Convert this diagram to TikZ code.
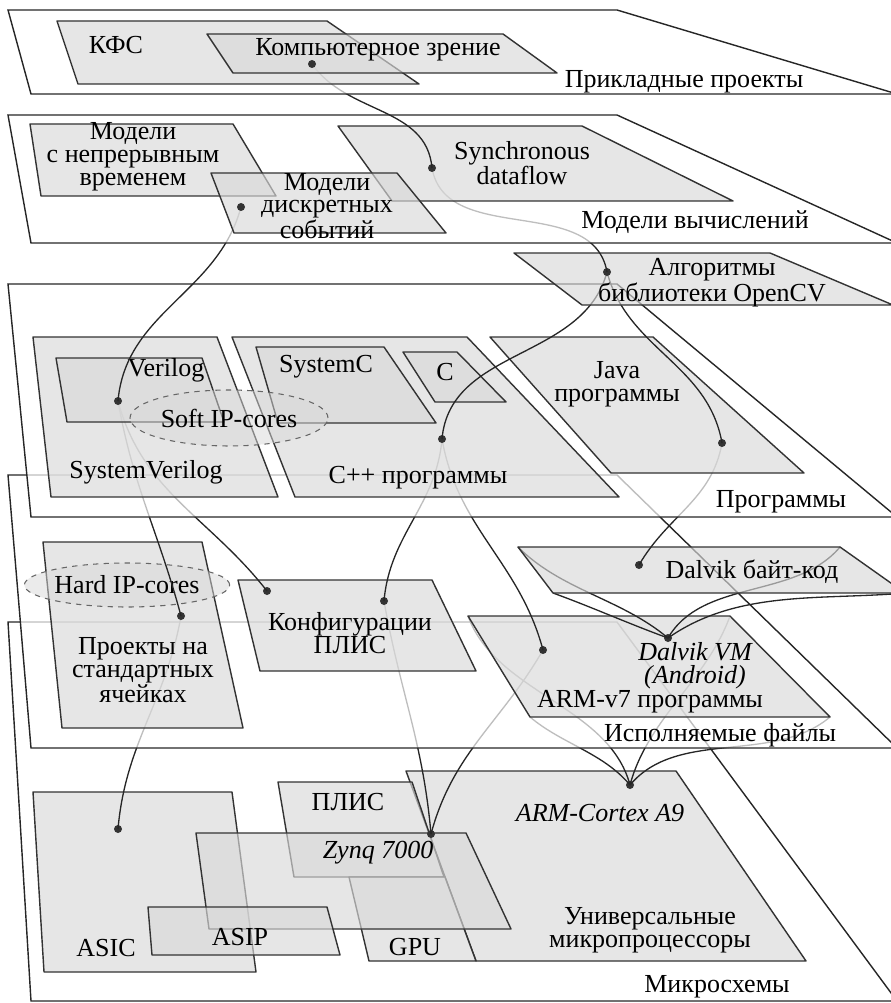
\documentclass[tikz,border=0pt]{standalone}
\usepackage{fontspec}
\setmainfont{Liberation Serif}
\usetikzlibrary{shapes.geometric}

\newcommand{\txtsize}{\fontsize{14.8}{13}\selectfont}
% one layer of the stack, given by its upper and its lower edge
\newcommand{\sheet}[2]{\draw[plane] (8,#1) -- (617,#1) -- (897,#2) -- (31,#2) -- cycle;}

\begin{document}
\begin{tikzpicture}[x=0.02cm, y=-0.02cm,
    every node/.style={font=\txtsize, align=center, inner sep=0pt},
    plane/.style={draw=black!85, line width=0.8pt, fill=white, fill opacity=0.7},
    block/.style={draw=black!80, line width=0.8pt, fill=black!15, fill opacity=0.65, line join=round},
    core/.style={ellipse, draw=black!60, dashed, line width=0.6pt, fill=black!15, fill opacity=0.5, text opacity=1},
    spot/.style={circle, fill=black!80, minimum size=1.6mm},
    link/.style={draw=black!85, line width=0.75pt},
    fan/.style={link, looseness=0.9},
    slanted/.style={font=\txtsize\itshape},
  ]
  \useasboundingbox (0,0) rectangle (891,1003);
  \clip (0,0) rectangle (891,1003);

  % points where the links meet
  \coordinate (kz) at (312,64);
  \coordinate (sdf) at (432,168);
  \coordinate (mde) at (241,207);
  \coordinate (ocv) at (607,272);
  \coordinate (vlg) at (118,401);
  \coordinate (cpp) at (442,439);
  \coordinate (jav) at (722,443);
  \coordinate (psc) at (181,616);
  \coordinate (cfa) at (267,591);
  \coordinate (cfb) at (384,601);
  \coordinate (dbc) at (639,565);
  \coordinate (dvm) at (668,638);
  \coordinate (arm) at (543,650);
  \coordinate (asc) at (118,829);
  \coordinate (znq) at (431,834);
  \coordinate (a9) at (630,785);
  % corners reached by the fans
  \coordinate (bc1) at (518,547); \coordinate (bc2) at (840,547);
  \coordinate (bc3) at (905,593); \coordinate (bc4) at (553,593);
  \coordinate (av1) at (468,616); \coordinate (av2) at (730,616);
  \coordinate (av3) at (830,717); \coordinate (av4) at (530,717);

  % Микросхемы
  \sheet{622}{1001}
  \draw[block] (33,792) -- (232,792) -- (256,972) -- (44,972) -- cycle;
  \draw[block] (406,771) -- (676,771) -- (806,961) -- (476,961) -- cycle;
  \draw[block] (278,782) -- (412,782) -- (444,877) -- (294,877) -- cycle;
  \draw[block] (349,877) -- (445,877) -- (476,961) -- (369,961) -- cycle;
  \draw[block] (196,833) -- (466,833) -- (511,929) -- (209,929) -- cycle;
  \draw[block] (148,907) -- (327,907) -- (340,955) -- (152,955) -- cycle;
  \node (chips) at (717,987) {Микросхемы};
  \node (asic) at (106,948) {ASIC};
  \node (asip) at (240,937) {ASIP};
  \node (fpga) at (348,802) {ПЛИС};
  \node (gpu) at (415,947) {GPU};
  \node (zynq) [slanted] at (378,853) {Zynq 7000};
  \node (cortex) [slanted] at (600,813) {ARM-Cortex A9};
  \node (cpu) at (650,930) {Универсальные\\микропроцессоры};
  \node (ascdot) [spot] at (asc) {};
  \node (znqdot) [spot] at (znq) {};
  \node (a9dot) [spot] at (a9) {};
  \draw[link] (psc) to[out=-100, in=85] (asc);
  \draw[link] (cfb) to[out=-80, in=95] (znq);
  \draw[link] (arm) to[out=-120, in=75] (znq);
  \foreach \c/\o/\i in {av1/105/-70, av2/75/-110, av3/50/-140, av4/130/-40}
    \draw[fan] (a9) to[out=\o, in=\i] (\c);

  % Исполняемые файлы
  \sheet{475}{748}
  \draw[block] (43,542) -- (202,542) -- (243,728) -- (62,728) -- cycle;
  \draw[block] (238,580) -- (432,580) -- (476,671) -- (260,671) -- cycle;
  \draw[block] (av1) -- (av2) -- (av3) -- (av4) -- cycle;
  \node (hardip) [core, minimum width=2.96cm, minimum height=0.88cm] at (127,585) {Hard IP-cores};
  \node (exe) at (720,735) {Исполняемые файлы};
  \node (cells) at (143,670) {Проекты на\\стандартных\\ячейках};
  \node (config) at (350,633) {Конфигурации\\ПЛИС};
  \node (vm) [slanted] at (695,666) {Dalvik VM\\(Android)};
  \node (armv7) at (650,702) {ARM-v7 программы};
  \node (pscdot) [spot] at (psc) {};
  \node (cfadot) [spot] at (cfa) {};
  \node (cfbdot) [spot] at (cfb) {};
  \node (armdot) [spot] at (arm) {};
  \node (dvmdot) [spot] at (dvm) {};
  \foreach \c/\o/\i in {bc1/140/-45, bc2/60/-130, bc3/35/185, bc4/160/-20}
    \draw[fan] (dvm) to[out=\o, in=\i] (\c);
  \draw[block] (bc1) -- (bc2) -- (bc3) -- (bc4) -- cycle;
  \node (bytecode) at (752,572) {Dalvik байт-код};
  \node (dbcdot) [spot] at (dbc) {};
  \draw[link] (jav) to[out=-100, in=60] (dbc);
  \draw[link] (cpp) to[out=-95, in=85] (cfb);
  \draw[link] (cpp) to[out=-80, in=105] (arm);
  \draw[link] (vlg) to[out=-80, in=105] (psc);
  \draw[link] (vlg) to[out=-75, in=128] (cfa);

  % Программы
  \sheet{284}{517}
  \draw[block] (33,337) -- (217,337) -- (278,497) -- (51,497) -- cycle;
  \draw[block] (56,358) -- (202,358) -- (224,422) -- (67,422) -- cycle;
  \draw[block] (232,337) -- (467,337) -- (619,497) -- (295,497) -- cycle;
  \draw[block] (256,347) -- (384,347) -- (436,423) -- (278,423) -- cycle;
  \draw[block] (403,352) -- (457,352) -- (506,402) -- (435,402) -- cycle;
  \draw[block] (490,337) -- (653,337) -- (804,473) -- (611,473) -- cycle;
  \node (softip) [core, minimum width=3.96cm, minimum height=1.12cm] at (229,418) {Soft IP-cores};
  \node (progs) at (781,502) {Программы};
  \node (sysv) at (146,472) {SystemVerilog};
  \node (verilog) at (166,370) {Verilog};
  \node (sysc) at (326,367) {SystemC};
  \node (clang) at (445,372) {C};
  \node (cpptxt) at (418,478) {C++ программы};
  \node (java) at (617,384) {Java\\программы};
  \node (vlgdot) [spot] at (vlg) {};
  \node (cppdot) [spot] at (cpp) {};
  \node (javdot) [spot] at (jav) {};
  \draw[link] (ocv) to[out=-105, in=85] (cpp);
  \draw[link] (ocv) to[out=-75, in=100] (jav);
  \draw[link] (mde) to[out=-105, in=85] (vlg);

  % алгоритмы между слоями
  \draw[block] (514,253) -- (770,253) -- (893,305) -- (582,305) -- cycle;
  \node (opencv) at (712,283) {Алгоритмы\\библиотеки OpenCV};
  \node (ocvdot) [spot] at (ocv) {};
  \draw[link] (sdf) to[out=-80, in=100] (ocv);

  % Модели вычислений
  \sheet{115}{243}
  \draw[block] (30,124) -- (233,124) -- (276,196) -- (41,196) -- cycle;
  \draw[block] (338,126) -- (582,126) -- (733,201) -- (392,201) -- cycle;
  \draw[block] (211,173) -- (397,173) -- (446,233) -- (234,233) -- cycle;
  \node (moc) at (695,222) {Модели вычислений};
  \node (ct) at (133,157) {Модели\\с непрерывным\\временем};
  \node (sync) at (522,163) {Synchronous\\dataflow};
  \node (de) at (327,206) {Модели\\дискретных\\событий};
  \node (sdfdot) [spot] at (sdf) {};
  \node (mdedot) [spot] at (mde) {};
  \draw[link] (kz) to[out=-55, in=95] (sdf);

  % Прикладные проекты
  \sheet{10}{94}
  \draw[block] (57,21) -- (327,21) -- (419,84) -- (78,84) -- cycle;
  \draw[block] (207,34) -- (503,34) -- (557,73) -- (233,73) -- cycle;
  \node (apps) at (684,82) {Прикладные проекты};
  \node (cps) at (116,45) {КФС};
  \node (vision) at (378,50) {Компьютерное зрение};
  \node (kzdot) [spot] at (kz) {};
\end{tikzpicture}
\end{document}
